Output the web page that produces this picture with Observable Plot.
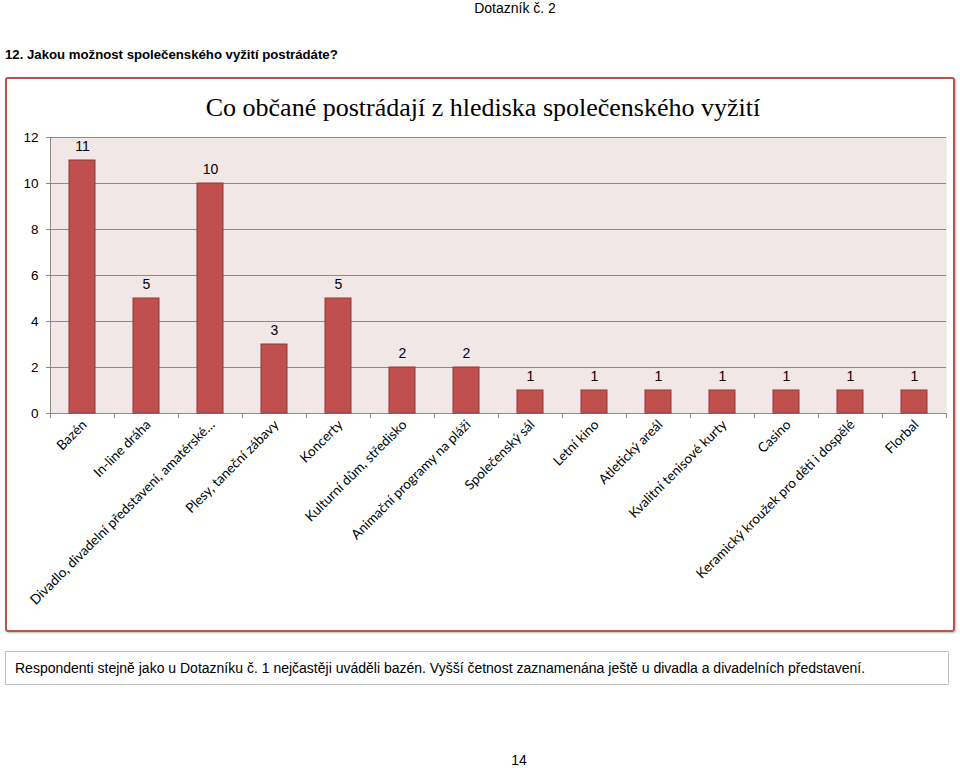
<!DOCTYPE html>
<html>
<head>
<meta charset="utf-8">
<script src="https://cdn.jsdelivr.net/npm/d3@7"></script>
<script src="https://cdn.jsdelivr.net/npm/@observablehq/plot@0.6"></script>
<style>
  html, body { margin: 0; padding: 0; background: #fff; }
  #page { position: relative; width: 960px; height: 768px; overflow: hidden; font-family: "Liberation Sans", Arial, sans-serif; color: #000; }
  #hdr { position: absolute; left: 0; width: 1030px; top: 0; text-align: center; font-size: 14px; }
  #question { position: absolute; left: 5px; top: 47px; font-size: 13.2px; font-weight: bold; }
  #box { position: absolute; left: 5px; top: 77px; width: 946px; height: 551px; border: 2px solid #c0504d; border-radius: 3px; box-shadow: 1px 1px 2px rgba(0,0,0,0.25); }
  #title { position: absolute; left: 0; width: 966px; top: 93px; text-align: center; font-family: "Liberation Serif", "Times New Roman", serif; font-size: 26px; }
  #chart { position: absolute; left: 0; top: 79px; }
  #caption { position: absolute; left: 5px; top: 651px; width: 933px; height: 32px; border: 1px solid #bfbfbf; font-size: 14px; line-height: 32px; padding-left: 9px; box-sizing: content-box; white-space: nowrap; }
  #pagenum { position: absolute; left: 0; width: 1038px; top: 752px; text-align: center; font-size: 14px; }
</style>
</head>
<body>
<div id="page">
  <div id="hdr">Dotazník č. 2</div>
  <div id="question">12. Jakou možnost společenského vyžití postrádáte?</div>
  <div id="box"></div>
  <div id="chart"></div>
  <div id="title">Co občané postrádají z hlediska společenského vyžití</div>
  <div id="caption">Respondenti stejně jako u Dotazníku č. 1 nejčastěji uváděli bazén. Vyšší četnost zaznamenána ještě u divadla a divadelních představení.</div>
  <div id="pagenum">14</div>
</div>
<script>
const categories = [
  "Bazén",
  "In-line dráha",
  "Divadlo, divadelní představení, amatérské…",
  "Plesy, taneční zábavy",
  "Koncerty",
  "Kulturní dům, středisko",
  "Animační programy na pláži",
  "Společenský sál",
  "Letní kino",
  "Atletický areál",
  "Kvalitní tenisové kurty",
  "Casino",
  "Keramický kroužek pro děti i dospělé",
  "Florbal"
];
const counts = [11, 5, 10, 3, 5, 2, 2, 1, 1, 1, 1, 1, 1, 1];
const yTicks = [0, 2, 4, 6, 8, 10, 12];

const data = categories.map((c, i) => ({category: c, count: counts[i]}));

const W = 960, marginLeft = 50, marginRight = 14;
const step = (W - marginLeft - marginRight) / (categories.length - 0.6 + 0.6);

const chart = Plot.plot({
  width: W,
  height: 540,
  marginLeft,
  marginRight,
  marginTop: 58,
  marginBottom: 206,
  style: {fontFamily: "'Liberation Sans', Arial, sans-serif", fontSize: "13px", color: "#000", background: "transparent", overflow: "visible"},
  x: {domain: categories, paddingInner: 0.6, paddingOuter: 0.3, label: null},
  y: {domain: [0, 12], ticks: yTicks, label: null},
  marks: [
    Plot.frame({fill: "#f2e7e7", stroke: null}),
    Plot.gridY(yTicks, {stroke: "#8a8a8a", strokeOpacity: 1}),
    Plot.frame({anchor: "left", stroke: "#8a8a8a"}),
    Plot.barY(data, {x: "category", y: "count", fill: "#c0504d", stroke: "#8e3b39", strokeWidth: 1}),
    Plot.text(data, {x: "category", y: "count", text: d => String(d.count), dy: -14, fontSize: 14, fill: "#000"}),
    Plot.ruleX(categories, {x: d => d, y1: 0, y2: -0.22, dx: -step / 2, stroke: "#8a8a8a"}),
    Plot.ruleX(categories.slice(-1), {x: d => d, y1: 0, y2: -0.22, dx: step / 2, stroke: "#8a8a8a"}),
    Plot.axisY({ticks: yTicks, tickSize: 4, tickPadding: 8, stroke: "#8a8a8a", fill: "#000", fontSize: 13.5}),
    Plot.axisX({tickSize: 0, tickRotate: -45, tickPadding: 9, dx: 2, fill: "#000", fontFamily: "Lato, 'Open Sans', sans-serif", fontSize: 13.5, label: null})
  ]
});
document.getElementById("chart").appendChild(chart);
</script>
</body>
</html>
